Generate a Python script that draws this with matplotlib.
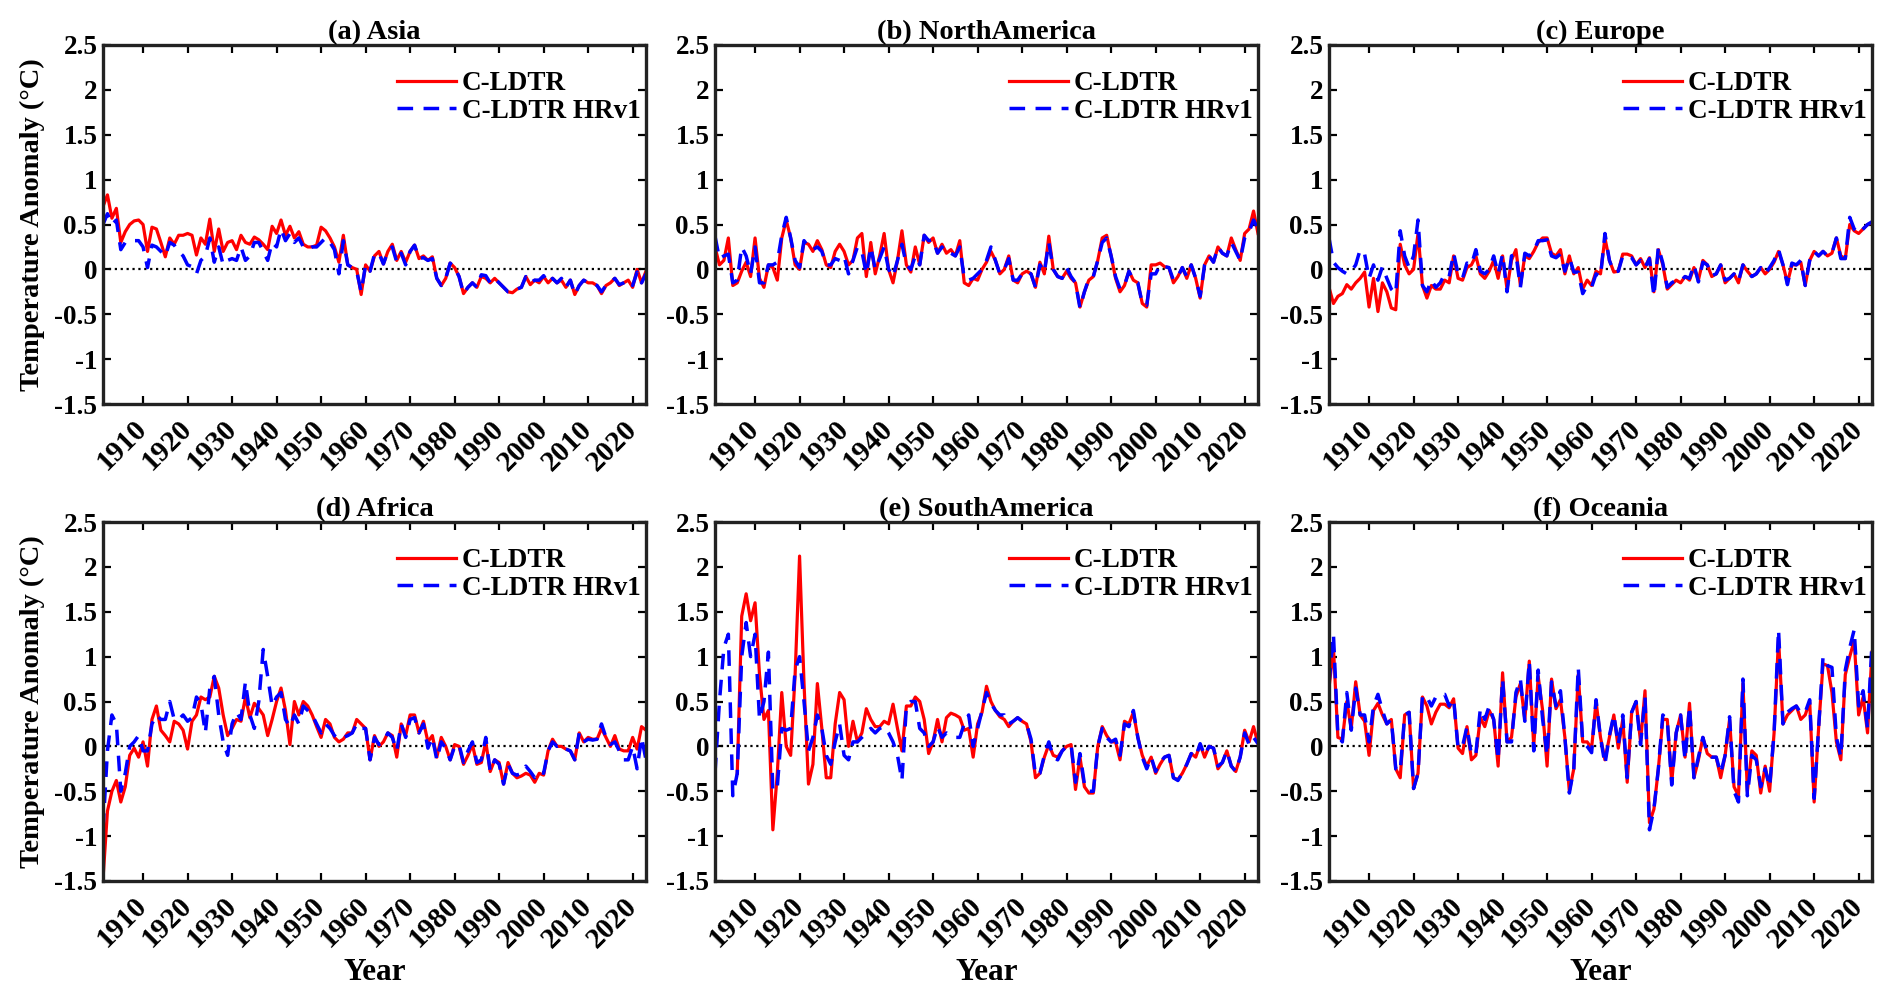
import numpy as np
import matplotlib
matplotlib.use('Agg')
import matplotlib.pyplot as plt
import matplotlib.transforms as mtransforms

plt.rcParams['font.family'] = ['Liberation Serif', 'DejaVu Serif']
plt.rcParams['font.weight'] = 'bold'
plt.rcParams['axes.unicode_minus'] = False

years = np.arange(1901, 2024)
nan = np.nan

asia_ldtr = [0.70, 0.83, 0.57, 0.68, 0.30, 0.42, 0.50, 0.54, 0.55, 0.50,
             0.20, 0.47, 0.45, 0.30, 0.14, 0.35, 0.28, 0.38, 0.38, 0.40,
             0.38, 0.16, 0.35, 0.28, 0.56, 0.20, 0.45, 0.20, 0.30, 0.32,
             0.22, 0.38, 0.30, 0.28, 0.36, 0.33, 0.28, 0.22, 0.48, 0.40,
             0.55, 0.38, 0.48, 0.35, 0.42, 0.28, 0.25, 0.25, 0.27, 0.47,
             0.43, 0.35, 0.25, 0.08, 0.38, 0.05, 0.02, 0.00, -0.28, 0.05,
             -0.02, 0.15, 0.20, 0.06, 0.20, 0.28, 0.10, 0.20, 0.08, 0.20,
             0.27, 0.12, 0.15, 0.10, 0.14, -0.10, -0.18, -0.10, 0.07, 0.02,
             -0.08, -0.27, -0.20, -0.15, -0.20, -0.08, -0.10, -0.15, -0.10, -0.15,
             -0.20, -0.25, -0.26, -0.22, -0.20, -0.08, -0.17, -0.12, -0.15, -0.08,
             -0.15, -0.10, -0.15, -0.12, -0.20, -0.12, -0.28, -0.18, -0.12, -0.15,
             -0.15, -0.18, -0.27, -0.18, -0.15, -0.10, -0.18, -0.15, -0.12, -0.20,
             0.00, -0.15, -0.02]
asia_hrv1 = [0.50, 0.62, 0.50, 0.55, 0.22, 0.30, 0.32, 0.32, 0.32, 0.25,
             0.02, 0.27, 0.25, 0.20, 0.15, 0.30, 0.27, 0.20, 0.15, 0.05,
             0.03, -0.05, 0.10, 0.15, 0.35, 0.08, 0.25, 0.05, 0.10, 0.12,
             0.10, 0.25, 0.10, 0.15, 0.30, 0.30, 0.20, 0.10, 0.30, 0.25,
             0.45, 0.32, 0.40, 0.30, 0.35, 0.25, 0.22, 0.25, 0.25, 0.30,
             0.35, 0.30, 0.22, -0.05, 0.32, 0.05, 0.02, -0.02, -0.25, 0.05,
             -0.02, 0.17, 0.18, 0.06, 0.20, 0.25, 0.08, 0.18, 0.05, 0.20,
             0.27, 0.12, 0.13, 0.10, 0.12, -0.10, -0.18, -0.10, 0.07, 0.02,
             -0.08, -0.27, -0.20, -0.15, -0.20, -0.06, -0.07, -0.15, -0.10, -0.15,
             -0.20, -0.25, -0.25, -0.22, -0.20, -0.08, -0.15, -0.12, -0.12, -0.07,
             -0.15, -0.10, -0.15, -0.10, -0.20, -0.12, -0.28, -0.18, -0.12, -0.15,
             -0.15, -0.18, -0.25, -0.18, -0.15, -0.10, -0.17, -0.15, -0.12, -0.18,
             -0.03, -0.15, -0.05]

namerica_ldtr = [0.25, 0.05, 0.10, 0.35, -0.18, -0.15, -0.02, 0.08, -0.08, 0.35,
                 -0.10, -0.20, 0.05, 0.02, -0.12, 0.35, 0.55, 0.35, 0.05, 0.00,
                 0.30, 0.28, 0.20, 0.32, 0.22, 0.05, 0.02, 0.20, 0.28, 0.20,
                 0.05, 0.10, 0.35, 0.40, -0.08, 0.30, -0.05, 0.15, 0.40, 0.00,
                 -0.15, 0.10, 0.43, 0.05, -0.03, 0.25, 0.05, 0.38, 0.30, 0.35,
                 0.18, 0.28, 0.18, 0.22, 0.15, 0.32, -0.15, -0.18, -0.10, -0.12,
                 0.00, 0.08, 0.20, 0.10, -0.05, 0.00, 0.15, -0.12, -0.15, -0.05,
                 -0.02, -0.05, -0.20, 0.08, -0.05, 0.37, 0.00, -0.08, -0.10, -0.02,
                 -0.10, -0.15, -0.42, -0.25, -0.12, -0.08, 0.10, 0.35, 0.38, 0.15,
                 -0.10, -0.25, -0.18, -0.02, -0.12, -0.15, -0.38, -0.42, 0.05, 0.05,
                 0.07, 0.03, 0.02, -0.15, -0.08, 0.02, -0.10, 0.05, -0.10, -0.32,
                 0.05, 0.15, 0.08, 0.25, 0.18, 0.15, 0.35, 0.22, 0.10, 0.40,
                 0.45, 0.65, 0.40]
namerica_hrv1 = [0.37, 0.12, 0.15, 0.17, -0.15, -0.12, 0.25, 0.15, -0.05, 0.25,
                 -0.15, -0.15, 0.05, 0.05, 0.08, 0.38, 0.58, 0.35, 0.10, 0.02,
                 0.32, 0.25, 0.22, 0.25, 0.20, 0.05, 0.05, 0.12, 0.10, 0.15,
                 -0.05, 0.10, 0.25, 0.20, -0.05, 0.25, 0.00, 0.12, 0.25, 0.00,
                 -0.08, 0.10, 0.28, 0.05, 0.00, 0.15, 0.05, 0.38, 0.32, 0.33,
                 0.18, 0.25, 0.18, 0.18, 0.15, 0.25, -0.10, -0.12, -0.10, -0.05,
                 0.00, 0.10, 0.25, 0.10, -0.05, 0.00, 0.12, -0.12, -0.12, -0.05,
                 -0.02, -0.05, -0.20, 0.05, -0.03, 0.30, 0.00, -0.08, -0.10, 0.02,
                 -0.08, -0.15, -0.43, -0.25, -0.10, -0.08, 0.10, 0.30, 0.35, 0.15,
                 -0.08, -0.22, -0.18, -0.02, -0.12, -0.15, -0.38, -0.40, -0.05, -0.05,
                 0.05, 0.03, 0.02, -0.12, -0.08, 0.02, -0.08, 0.05, -0.10, -0.30,
                 0.05, 0.15, 0.08, 0.25, 0.18, 0.15, 0.30, 0.20, 0.10, 0.35,
                 0.42, 0.55, 0.45]

europe_ldtr = [-0.20, -0.38, -0.30, -0.27, -0.17, -0.22, -0.15, -0.10, -0.03, -0.42,
               -0.10, -0.47, -0.15, -0.25, -0.43, -0.45, 0.28, 0.05, -0.05, 0.00,
               0.40, -0.18, -0.32, -0.18, -0.22, -0.22, -0.12, -0.15, 0.15, -0.10,
               -0.12, 0.02, 0.05, 0.15, -0.05, -0.10, -0.02, 0.10, -0.10, 0.15,
               -0.22, 0.10, 0.22, -0.18, 0.15, 0.12, 0.20, 0.30, 0.35, 0.35,
               0.18, 0.15, 0.22, -0.05, 0.15, -0.05, 0.02, -0.22, -0.12, -0.18,
               -0.02, -0.05, 0.35, 0.10, -0.03, -0.02, 0.17, 0.17, 0.15, 0.05,
               0.12, 0.02, 0.13, -0.25, 0.22, 0.05, -0.22, -0.17, -0.12, -0.15,
               -0.08, -0.12, 0.02, -0.12, 0.10, 0.05, -0.08, -0.05, 0.05, -0.15,
               -0.10, -0.05, -0.15, 0.05, -0.02, -0.08, -0.05, 0.02, -0.05, 0.00,
               0.08, 0.20, 0.05, -0.15, 0.05, 0.05, 0.08, -0.18, 0.10, 0.20,
               0.15, 0.20, 0.15, 0.18, 0.35, 0.15, 0.12, 0.50, 0.43, 0.40,
               0.45, 0.50, 0.52]
europe_hrv1 = [0.35, 0.08, 0.02, -0.02, -0.05, -0.02, 0.05, 0.22, 0.17, -0.10,
               0.05, -0.12, 0.03, -0.10, -0.22, -0.27, 0.43, 0.15, 0.02, 0.15,
               0.55, -0.18, -0.25, -0.12, -0.20, -0.15, -0.05, -0.08, 0.18, -0.05,
               -0.10, 0.07, 0.05, 0.22, -0.02, -0.05, 0.00, 0.15, -0.05, 0.17,
               -0.25, 0.15, 0.17, -0.20, 0.18, 0.15, 0.20, 0.32, 0.32, 0.33,
               0.15, 0.13, 0.17, -0.02, 0.13, -0.03, -0.03, -0.27, -0.18, -0.20,
               -0.05, -0.08, 0.40, 0.10, -0.03, -0.02, 0.15, 0.15, 0.13, 0.05,
               0.10, 0.02, 0.12, -0.30, 0.25, 0.07, -0.20, -0.15, -0.12, -0.13,
               -0.08, -0.10, 0.05, -0.14, 0.08, 0.05, -0.07, -0.05, 0.05, -0.12,
               -0.10, -0.05, -0.13, 0.05, -0.02, -0.08, -0.05, 0.02, -0.05, 0.02,
               0.10, 0.22, 0.05, -0.17, 0.07, 0.05, 0.10, -0.18, 0.10, 0.20,
               0.15, 0.20, 0.15, 0.18, 0.35, 0.12, 0.12, 0.58, 0.45, 0.40,
               0.45, 0.50, 0.53]

africa_ldtr = [-1.48, -0.72, -0.50, -0.38, -0.62, -0.45, -0.10, -0.02, -0.12, 0.05,
               -0.22, 0.30, 0.45, 0.18, 0.12, 0.05, 0.28, 0.25, 0.18, -0.03,
               0.28, 0.35, 0.55, 0.52, 0.55, 0.78, 0.65, 0.35, 0.12, 0.20,
               0.30, 0.28, 0.55, 0.32, 0.48, 0.42, 0.35, 0.12, 0.30, 0.50,
               0.65, 0.40, 0.02, 0.50, 0.35, 0.50, 0.45, 0.35, 0.22, 0.10,
               0.30, 0.25, 0.10, 0.05, 0.08, 0.15, 0.15, 0.30, 0.25, 0.20,
               -0.15, 0.12, 0.00, 0.05, 0.15, 0.12, -0.12, 0.25, 0.12, 0.35,
               0.35, 0.15, 0.28, 0.05, 0.12, -0.12, 0.10, 0.00, -0.15, 0.02,
               0.00, -0.20, -0.10, 0.02, -0.20, -0.18, 0.05, -0.28, -0.15, -0.18,
               -0.42, -0.18, -0.30, -0.35, -0.33, -0.30, -0.32, -0.40, -0.30, -0.32,
               -0.05, 0.08, 0.00, 0.00, -0.03, -0.05, -0.15, 0.15, 0.05, 0.10,
               0.08, 0.08, 0.20, 0.10, 0.00, 0.12, -0.03, -0.05, -0.05, 0.10,
               -0.03, 0.22, 0.18]
africa_hrv1 = [-0.92, -0.05, 0.35, 0.25, -0.50, -0.30, 0.00, 0.05, 0.12, -0.05,
               -0.05, 0.25, 0.35, 0.30, 0.30, 0.50, 0.30, 0.30, 0.35, 0.28,
               0.32, 0.55, 0.48, 0.15, 0.65, 0.78, 0.35, 0.05, -0.10, 0.25,
               0.38, 0.30, 0.72, 0.35, 0.20, 0.50, 1.08, 0.78, 0.45, 0.55,
               0.60, 0.30, 0.22, 0.35, 0.25, 0.45, 0.40, 0.35, 0.25, 0.15,
               0.25, 0.20, 0.12, 0.08, 0.10, 0.12, 0.15, 0.25, 0.20, 0.20,
               -0.15, 0.10, 0.02, 0.05, 0.15, 0.10, -0.05, 0.25, 0.10, 0.30,
               0.32, 0.15, 0.25, -0.02, 0.10, -0.15, 0.05, -0.02, -0.15, 0.00,
               0.02, -0.18, -0.05, 0.05, -0.18, -0.15, 0.10, -0.28, -0.15, -0.20,
               -0.42, -0.20, -0.30, -0.32, -0.30, -0.22, -0.28, -0.35, -0.28, -0.30,
               -0.05, 0.05, 0.00, 0.02, -0.03, -0.05, -0.15, 0.15, 0.05, 0.08,
               0.07, 0.08, 0.25, 0.10, 0.02, 0.05, -0.05, -0.15, -0.15, 0.00,
               -0.25, 0.10, -0.15]

samerica_ldtr = [nan, nan, nan, nan, nan, -0.30, 1.45, 1.70, 1.40, 1.60,
                 0.80, 0.30, 0.40, -0.93, -0.30, 0.60, 0.00, -0.10, 0.80, 2.12,
                 0.70, -0.42, -0.20, 0.70, 0.20, -0.35, -0.35, 0.25, 0.60, 0.52,
                 0.00, 0.28, 0.05, 0.15, 0.42, 0.30, 0.22, 0.22, 0.28, 0.25,
                 0.47, 0.20, -0.05, 0.45, 0.45, 0.55, 0.50, 0.30, -0.08, 0.05,
                 0.30, 0.05, 0.32, 0.37, 0.35, 0.32, 0.18, 0.20, -0.12, 0.25,
                 0.38, 0.67, 0.50, 0.40, 0.33, 0.30, 0.22, 0.28, 0.32, 0.28,
                 0.25, 0.05, -0.35, -0.30, -0.12, 0.02, -0.10, -0.12, -0.05, 0.00,
                 0.02, -0.48, -0.12, -0.45, -0.52, -0.52, 0.00, 0.22, 0.12, 0.05,
                 0.05, -0.15, 0.28, 0.25, 0.38, 0.10, -0.10, -0.22, -0.12, -0.30,
                 -0.20, -0.12, -0.10, -0.35, -0.37, -0.30, -0.20, -0.08, -0.12, 0.02,
                 -0.12, 0.00, -0.02, -0.25, -0.18, -0.05, -0.22, -0.28, -0.12, 0.18,
                 0.05, 0.22, 0.03]
samerica_hrv1 = [-0.30, 0.50, 1.10, 1.25, -0.55, -0.30, 1.00, 1.38, 1.00, 1.25,
                 0.30, 0.50, 1.05, -0.50, -0.45, 0.20, 0.18, 0.20, 0.85, 1.00,
                 0.50, -0.05, 0.10, 0.35, 0.20, -0.10, -0.20, 0.05, 0.25, -0.10,
                 -0.15, 0.05, 0.05, 0.10, 0.15, 0.20, 0.15, 0.20, 0.22, 0.15,
                 0.05, -0.10, -0.38, 0.45, 0.50, 0.50, 0.20, 0.15, 0.00, 0.05,
                 0.22, 0.10, 0.15, 0.12, 0.10, 0.10, 0.25, 0.35, 0.00, 0.20,
                 0.40, 0.60, 0.48, 0.40, 0.35, 0.35, 0.25, 0.28, 0.32, 0.28,
                 0.25, 0.08, -0.32, -0.30, -0.10, 0.05, -0.12, -0.15, -0.05, 0.00,
                 0.02, -0.40, -0.08, -0.42, -0.50, -0.50, 0.00, 0.20, 0.10, 0.05,
                 0.08, -0.10, 0.25, 0.22, 0.40, 0.10, -0.12, -0.25, -0.12, -0.28,
                 -0.18, -0.12, -0.10, -0.35, -0.38, -0.30, -0.20, -0.08, -0.12, 0.03,
                 -0.10, 0.00, -0.02, -0.22, -0.18, -0.05, -0.22, -0.28, -0.12, 0.15,
                 0.02, 0.10, 0.03]

oceania_ldtr = [0.65, 1.10, 0.10, 0.08, 0.50, 0.20, 0.72, 0.35, 0.28, -0.10,
                0.40, 0.48, 0.35, 0.25, 0.30, -0.25, -0.35, 0.35, 0.38, -0.47,
                -0.30, 0.55, 0.45, 0.25, 0.38, 0.47, 0.47, 0.43, 0.53, -0.02,
                -0.08, 0.22, -0.15, -0.10, 0.32, 0.22, 0.40, 0.30, -0.22, 0.82,
                0.05, 0.10, 0.55, 0.70, 0.30, 0.95, 0.00, 0.78, 0.40, -0.22,
                0.75, 0.42, 0.52, 0.10, -0.50, -0.25, 0.80, 0.05, 0.05, -0.02,
                0.50, 0.10, -0.15, 0.10, 0.35, -0.02, 0.30, -0.40, 0.38, 0.50,
                0.05, 0.62, -0.85, -0.70, -0.25, 0.30, 0.30, -0.40, 0.15, 0.35,
                -0.12, 0.48, -0.35, -0.15, 0.10, -0.08, -0.12, -0.12, -0.35, -0.10,
                0.30, -0.45, -0.55, 0.70, -0.50, -0.05, -0.10, -0.52, -0.22, -0.50,
                0.15, 1.20, 0.25, 0.35, 0.40, 0.45, 0.30, 0.35, 0.50, -0.62,
                0.20, 0.92, 0.90, 0.60, 0.05, -0.15, 0.80, 1.00, 1.18, 0.35,
                0.55, 0.15, 1.05]
oceania_hrv1 = [0.70, 1.25, 0.12, 0.05, 0.60, 0.18, 0.65, 0.35, 0.35, 0.05,
                0.45, 0.58, 0.40, 0.25, 0.30, -0.25, -0.28, 0.35, 0.38, -0.47,
                -0.30, 0.57, 0.55, 0.45, 0.55, 0.58, 0.58, 0.45, 0.53, -0.02,
                0.00, 0.22, -0.10, -0.08, 0.42, 0.30, 0.45, 0.30, -0.15, 0.75,
                0.05, 0.05, 0.60, 0.75, 0.28, 0.95, -0.05, 0.85, 0.30, -0.10,
                0.72, 0.45, 0.62, 0.10, -0.52, -0.25, 0.88, 0.05, 0.00, -0.07,
                0.52, 0.10, -0.20, 0.12, 0.35, 0.02, 0.35, -0.35, 0.38, 0.50,
                0.02, 0.55, -0.93, -0.70, -0.25, 0.35, 0.30, -0.43, 0.15, 0.35,
                -0.15, 0.45, -0.35, -0.12, 0.10, -0.08, -0.12, -0.12, -0.30, -0.10,
                0.33, -0.50, -0.62, 0.75, -0.55, -0.10, -0.15, -0.45, -0.25, -0.45,
                0.15, 1.30, 0.25, 0.38, 0.42, 0.45, 0.37, 0.38, 0.52, -0.58,
                0.20, 1.00, 0.90, 0.88, 0.10, -0.12, 0.85, 1.10, 1.30, 0.45,
                0.62, 0.20, 1.15]

titles = ['(a) Asia', '(b) NorthAmerica', '(c) Europe',
          '(d) Africa', '(e) SouthAmerica', '(f) Oceania']
ldtr = [asia_ldtr, namerica_ldtr, europe_ldtr, africa_ldtr, samerica_ldtr, oceania_ldtr]
hrv1 = [asia_hrv1, namerica_hrv1, europe_hrv1, africa_hrv1, samerica_hrv1, oceania_hrv1]

xticks = list(range(1910, 2030, 10))
yticks = [-1.5, -1, -0.5, 0, 0.5, 1, 1.5, 2, 2.5]
yticklabels = ['-1.5', '-1', '-0.5', '0', '0.5', '1', '1.5', '2', '2.5']

fig = plt.figure(figsize=(18.92, 9.98), dpi=100)

lefts = [103, 715, 1329]
bottoms = [404, 881]
W, H = 1892., 998.
aw, ah = 543., 359.

# shift rotated year labels to the right, like the matlab output
shift = mtransforms.ScaledTranslation(21 / 72., -3 / 72., fig.dpi_scale_trans)

for i in range(6):
    r, c = divmod(i, 3)
    ax = fig.add_axes([lefts[c] / W, 1 - bottoms[r] / H, aw / W, ah / H])
    ax.plot(years, ldtr[i], color='#ff0000', lw=2.3, label='C-LDTR')
    ax.plot(years, hrv1[i], color='#0000ff', lw=2.5, ls=(0, (4.5, 3.0)), label='C-LDTR HRv1')
    ax.axhline(0, color='k', ls=':', lw=1.6, zorder=1)
    ax.set_xlim(1901, 2023)
    ax.set_ylim(-1.5, 2.5)
    ax.set_xticks(xticks)
    ax.set_xticklabels([str(t) for t in xticks], rotation=45, ha='right',
                       va='center', rotation_mode='anchor')
    for lab in ax.get_xticklabels():
        lab.set_transform(lab.get_transform() + shift)
    ax.set_yticks(yticks)
    ax.set_yticklabels(yticklabels)
    ax.tick_params(direction='in', length=6, width=1.6, labelsize=19.5,
                   top=True, right=True, pad=4)
    ax.tick_params(axis='x', pad=15, labelsize=21)
    for sp in ax.spines.values():
        sp.set_linewidth(2.4)
        sp.set_color('#222222')
    ax.set_title(titles[i], fontsize=20.5, fontweight='bold', pad=4)
    if c == 0:
        ax.set_ylabel('Temperature Anomaly (\u00b0C)', fontsize=20.5, fontweight='bold', labelpad=7)
    if r == 1:
        ax.set_xlabel('Year', fontsize=22.5, fontweight='bold', labelpad=4)
    ax.legend(loc='upper right', bbox_to_anchor=(0.99, 0.927), frameon=False,
              fontsize=19.5, handlelength=2.2, handletextpad=0.2,
              labelspacing=0.1, borderpad=0, borderaxespad=0)

plt.savefig('out.png', dpi=100)
